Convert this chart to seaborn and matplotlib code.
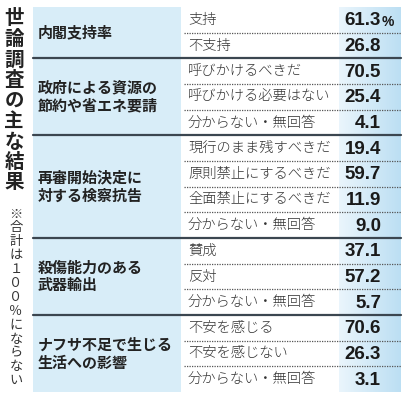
import numpy as np
import matplotlib.pyplot as plt
import seaborn as sns

title = "世論調査の主な結果"
note = "※合計は１００％にならない"
questions = ["内閣支持率", "政府による資源の\n節約や省エネ要請", "再審開始決定に\n対する検察抗告",
             "殺傷能力のある\n武器輸出", "ナフサ不足で生じる\n生活への影響"]
answers = [
    ["支持", "不支持"],
    ["呼びかけるべきだ", "呼びかける必要はない", "分からない・無回答"],
    ["現行のまま残すべきだ", "原則禁止にするべきだ", "全面禁止にするべきだ", "分からない・無回答"],
    ["賛成", "反対", "分からない・無回答"],
    ["不安を感じる", "不安を感じない", "分からない・無回答"],
]
values = [
    [61.3, 26.8],
    [70.5, 25.4, 4.1],
    [19.4, 59.7, 11.9, 9.0],
    [37.1, 57.2, 5.7],
    [70.6, 26.3, 3.1],
]

sns.set_theme(style="white")
plt.rcParams['font.family'] = ['Noto Sans CJK JP', 'DejaVu Sans']

fig = plt.figure(figsize=(4.09, 4.00), dpi=100)
ax = fig.add_axes([0, 0, 1, 1])
ax.set_xlim(0, 409)
ax.set_ylim(400, 0)
ax.axis('off')

top, bottom = 7, 392
x0, x1, x2, x3 = 33, 181, 339, 401
nrows = sum(len(a) for a in answers)
h = (bottom - top) / nrows

# backgrounds
ax.add_patch(plt.Rectangle((x0, top), x1 - x0, bottom - top, color='#d8edf8', lw=0))
grad = np.linspace(0, 1, 50)[None, :]
cmap = sns.blend_palette(['#eaf5fc', '#bcdff3'], as_cmap=True)
ax.imshow(grad, extent=(x2, x3, bottom, top), aspect='auto', cmap=cmap, zorder=0)

# left vertical title and note
for i, ch in enumerate(title):
    ax.text(14, 19 + i * 20.5, ch, ha='center', va='center', fontsize=14, fontweight='bold', color='#222')
for i, ch in enumerate(note):
    ax.text(16, 214 + i * 13.9, ch, ha='center', va='center', fontsize=9.5, color='#333')

row = 0
for qi, q in enumerate(questions):
    n = len(answers[qi])
    ys = top + row * h
    ax.text(x0 + 5, ys + n * h / 2, q, ha='left', va='center', fontsize=10.8, fontweight='bold',
            color='#222', linespacing=1.15)
    for j, (a, v) in enumerate(zip(answers[qi], values[qi])):
        yc = ys + (j + 0.5) * h
        ax.text(x1 + 7, yc, a, ha='left', va='center', fontsize=10.3, color='#333', fontweight='light')
        ax.text(381, yc + 1, f"{v:.1f}", ha='right', va='center', fontsize=13.5, fontweight='bold',
                family='Liberation Sans', color='#1a1a1a')
        if qi == 0 and j == 0:
            ax.text(382, yc + 2, "%", ha='left', va='center', fontsize=10, fontweight='bold',
                    family='Liberation Sans', color='#1a1a1a')
        if j < n - 1:
            ax.plot([x1 + 3, x3], [ys + (j + 1) * h] * 2, ls=(0, (1, 1)), lw=0.9, color='#555')
    row += n
    if qi < len(questions) - 1:
        ax.plot([x0, x3], [top + row * h] * 2, lw=1.6, color='#3b4650')

fig.savefig('out.png', dpi=100)
